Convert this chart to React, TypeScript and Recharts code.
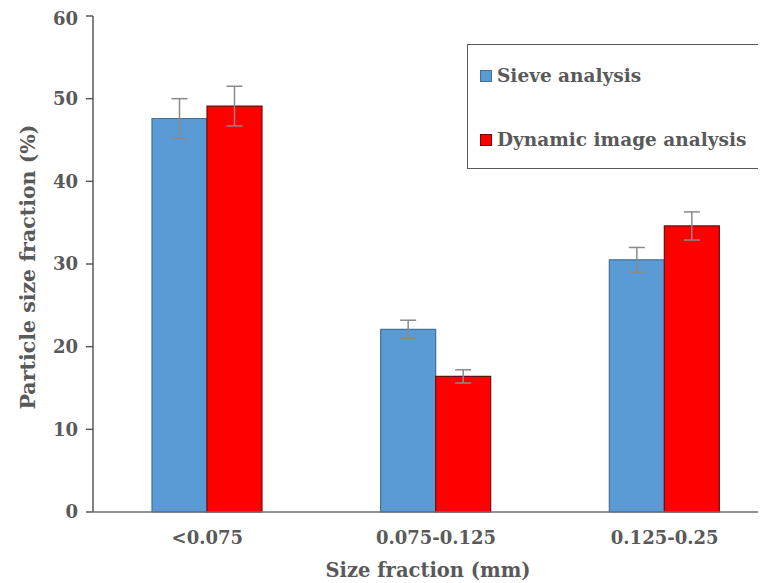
import React from 'react';
import { BarChart, Bar, XAxis, YAxis, ErrorBar, Legend, Label } from 'recharts';

const categories = ['<0.075', '0.075-0.125', '0.125-0.25'];
const sieveValues = [47.6, 22.1, 30.5];
const sieveErrors = [2.4, 1.1, 1.5];
const dynamicValues = [49.1, 16.4, 34.6];
const dynamicErrors = [2.4, 0.8, 1.7];
const yTicks = [0, 10, 20, 30, 40, 50, 60];
const seriesOrder = ['sieve', 'dynamic'];

const data = categories.map((c, i) => ({
  category: c,
  sieve: sieveValues[i],
  sieveErr: sieveErrors[i],
  dynamic: dynamicValues[i],
  dynamicErr: dynamicErrors[i],
}));

const FONT = '"DejaVu Serif", serif';
const TEXT = '#595959';

const LegendBox = (props: any) => {
  const payload = [...(props.payload || [])].sort(
    (a: any, b: any) => seriesOrder.indexOf(a.dataKey) - seriesOrder.indexOf(b.dataKey)
  );
  return (
    <div
      style={{
        width: 340,
        height: 125,
        border: '1.5px solid #5a5a5a',
        boxSizing: 'border-box',
        background: '#fff',
        position: 'relative',
        fontFamily: FONT,
        fontWeight: 'bold',
        fontSize: 18.5,
        color: TEXT,
      }}
    >
      {payload.map((p: any, i: number) => (
        <div key={i} style={{ position: 'absolute', left: 12, top: i === 0 ? 20 : 84, display: 'flex', alignItems: 'center', whiteSpace: 'nowrap' }}>
          <span
            style={{
              display: 'inline-block',
              width: 10,
              height: 10,
              background: p.color,
              border: `1px solid ${p.dataKey === 'sieve' ? '#41719C' : '#7F0000'}`,
              marginRight: 5,
            }}
          />
          <span>{p.value}</span>
        </div>
      ))}
    </div>
  );
};

const YTitle = (props: any) => {
  const vb = props.viewBox || {};
  const cx = 20;
  const cy = vb.y + vb.height / 2 + 3;
  return (
    <text x={cx} y={cy} transform={`rotate(-90, ${cx}, ${cy})`} textAnchor="middle" dominantBaseline="central"
      fill={TEXT} fontFamily={FONT} fontWeight="bold" fontSize={20.5}>
      Particle size fraction (%)
    </text>
  );
};

const XTitle = () => {
  const cx = 420;
  const cy = 562;
  return (
    <text x={cx} y={cy} textAnchor="middle" dominantBaseline="central"
      fill={TEXT} fontFamily={FONT} fontWeight="bold" fontSize={19.5}>
      Size fraction (mm)
    </text>
  );
};

export default function App() {
  return (
    <div style={{ width: 758, height: 575, overflow: 'hidden', position: 'relative' }}>
      <BarChart
        width={780}
        height={575}
        data={data}
        margin={{ top: 8, right: 9, left: 0, bottom: 41 }}
        barGap={0}
        barSize={55}
      >
        <XAxis
          dataKey="category"
          axisLine={{ stroke: '#6f6f6f', strokeWidth: 1.5 }}
          tickLine={false}
          tick={{ fill: TEXT, fontFamily: FONT, fontWeight: 'bold', fontSize: 18 }}
          tickMargin={13}
          height={30}
          interval={0}
        >
          <Label content={<XTitle />} />
        </XAxis>
        <YAxis
          domain={[0, 60]}
          ticks={yTicks}
          width={85}
          axisLine={{ stroke: '#595959', strokeWidth: 1.5 }}
          tickLine={{ stroke: '#595959', strokeWidth: 1.5 }}
          tickSize={7}
          tickMargin={8}
          tick={{ fill: TEXT, fontFamily: FONT, fontWeight: 'bold', fontSize: 18 }}
        >
          <Label content={<YTitle />} />
        </YAxis>
        <Legend
          layout="horizontal"
          verticalAlign="middle"
          align="center"
          content={<LegendBox />}
          wrapperStyle={{ position: 'absolute', left: 459, top: 36, width: 340, height: 125 }}
        />
        <Bar dataKey="sieve" name="Sieve analysis" fill="#5B9BD5" stroke="#41719C" strokeWidth={1.2} isAnimationActive={false}>
          <ErrorBar dataKey="sieveErr" direction="y" width={8} stroke="#8a8a8a" strokeWidth={1.5} isAnimationActive={false} />
        </Bar>
        <Bar dataKey="dynamic" name="Dynamic image analysis" fill="#FF0000" stroke="#6b1010" strokeWidth={1.2} isAnimationActive={false}>
          <ErrorBar dataKey="dynamicErr" direction="y" width={8} stroke="#8a8a8a" strokeWidth={1.5} isAnimationActive={false} />
        </Bar>
      </BarChart>
    </div>
  );
}
